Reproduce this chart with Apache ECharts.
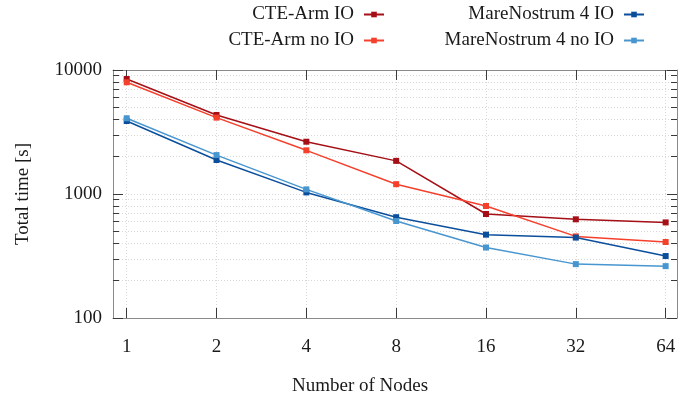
<!DOCTYPE html>
<html><head><meta charset="utf-8">
<script src="https://cdn.jsdelivr.net/npm/echarts@6/dist/echarts.min.js"></script>
<style>html,body{margin:0;padding:0;background:#fff}#c{width:699px;height:401px}</style>
</head><body><div id="c"></div>
<script>
const nodes = [1, 2, 4, 8, 16, 32, 64];
const cteArmIO = [8460, 4340, 2640, 1850, 690, 625, 590];
const cteArmNoIO = [7960, 4130, 2250, 1200, 800, 455, 410];
const mn4IO = [3880, 1880, 1030, 650, 470, 445, 316];
const mn4NoIO = [4080, 2060, 1090, 606, 370, 272, 262];
const yMajor = [100, 1000, 10000];
const yMinor = [200, 300, 400, 500, 600, 700, 800, 900, 2000, 3000, 4000, 5000, 6000, 7000, 8000, 9000];
const seriesNames = ['CTE-Arm IO', 'CTE-Arm no IO', 'MareNostrum 4 IO', 'MareNostrum 4 no IO'];
const seriesColors = ['#a50f15', '#f5402c', '#0b4f9c', '#4896cf'];
const seriesValues = [cteArmIO, cteArmNoIO, mn4IO, mn4NoIO];

const FONT = 'Liberation Serif';
const frameColor = '#8a8a8a';
const tickColor = '#3a3a3a';
const gridLine = { show: true, lineStyle: { color: '#d8d8d8', type: [1, 2], width: 1 } };

function xAx(pos, labels) {
  return {
    type: 'log', logBase: 2, position: pos, min: 0.8997, max: 69.86,
    axisLine: { show: true, lineStyle: { color: frameColor, width: 1 } },
    axisTick: { show: true, inside: true, length: 10, customValues: nodes, lineStyle: { color: tickColor } },
    axisLabel: labels ? { show: true, customValues: nodes, margin: 20, fontFamily: FONT, fontSize: 19, color: '#1a1a1a',
      formatter: v => String(Math.round(v)) } : { show: false },
    splitLine: labels ? gridLine : { show: false },
    minorTick: { show: false }, minorSplitLine: { show: false }
  };
}
function yAx(pos, major, withLabel) {
  const vals = major ? yMajor : yMinor;
  return {
    type: 'log', logBase: 10, position: pos, min: 100, max: 10000,
    axisLine: { show: major, lineStyle: { color: frameColor, width: 1 } },
    axisTick: { show: true, inside: true, length: major ? 10 : 6, customValues: vals, lineStyle: { color: tickColor } },
    axisLabel: withLabel ? { show: true, customValues: yMajor, margin: 11, fontFamily: FONT, fontSize: 19, color: '#1a1a1a',
      formatter: v => String(Math.round(v)) } : { show: false },
    splitLine: (pos === 'left') ? gridLine : { show: false },
    name: withLabel ? 'Total time [s]' : '',
    nameLocation: 'middle', nameGap: 80,
    nameTextStyle: { fontFamily: FONT, fontSize: 19, color: '#1a1a1a' }
  };
}

function legendFor(i, right, top) {
  return {
    data: [seriesNames[i]], right: right, top: top, align: 'right', orient: 'horizontal',
    padding: 0, itemWidth: 20, itemHeight: 7,
    textStyle: { fontFamily: FONT, fontSize: 19, color: '#1a1a1a', padding: [0, 5, 0, 0] }
  };
}

const chart = echarts.init(document.getElementById('c'));
chart.setOption({
  animation: false,
  backgroundColor: '#fff',
  title: { text: 'Number of Nodes', left: 292, top: 377, padding: 0,
    textStyle: { fontFamily: FONT, fontSize: 19, fontWeight: 'normal', color: '#1a1a1a' } },
  legend: [legendFor(0, 314, 5), legendFor(1, 314, 31), legendFor(2, 54, 5), legendFor(3, 54, 31)],
  grid: { left: 113, right: 22, top: 70, bottom: 83, containLabel: false },
  xAxis: [xAx('bottom', true), xAx('top', false)],
  yAxis: [yAx('left', true, true), yAx('left', false, false), yAx('right', true, false), yAx('right', false, false)],
  series: seriesNames.map((n, i) => ({
    name: n, type: 'line', xAxisIndex: 0, yAxisIndex: 0,
    symbol: 'rect', symbolSize: 6, showSymbol: true,
    itemStyle: { color: seriesColors[i] },
    lineStyle: { color: seriesColors[i], width: 1.5 },
    data: nodes.map((x, j) => [x, seriesValues[i][j]])
  }))
});
</script></body></html>
